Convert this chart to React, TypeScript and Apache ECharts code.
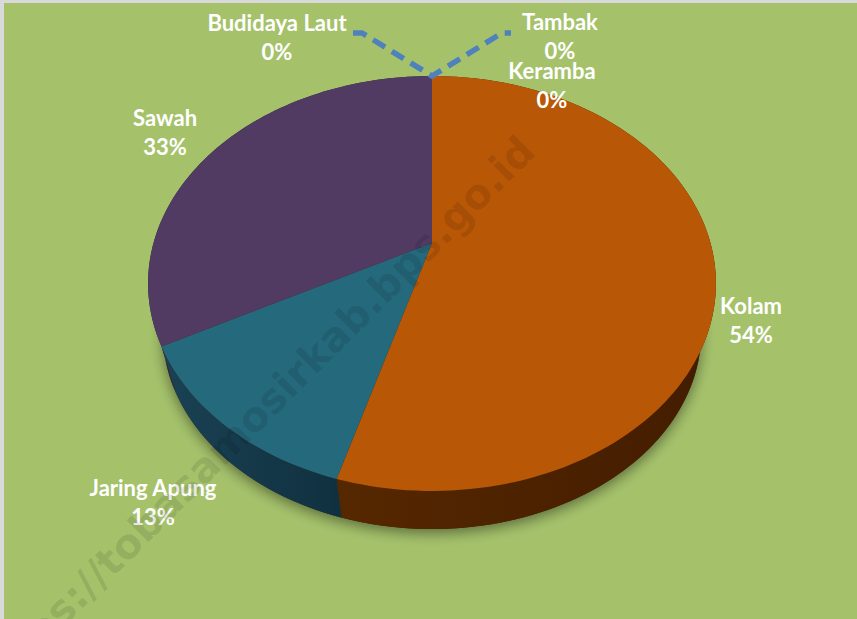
import React, { useEffect, useRef } from "react";
import * as echarts from "echarts";

const categories = ["Kolam", "Jaring Apung", "Sawah", "Budidaya Laut", "Tambak", "Keramba"];
const shares = [54.49, 12.71, 32.8, 0, 0, 0];
const faceColors = ["#b85706", "#25697c", "#513b63", "#4f81bd", "#c0504d", "#9bbb59"];
const wallLeft = ["#562800", "#1a4254", "#33233f", "#4f81bd", "#c0504d", "#9bbb59"];
const wallRight = ["#431c00", "#10303f", "#33233f", "#4f81bd", "#c0504d", "#9bbb59"];
const watermark = "https://tobasamosirkab.bps.go.id";

const total = shares.reduce((a, b) => a + b, 0);
const percentText = (v: number) => `${Math.round((v / total) * 100)}%`;

// perspective view of the disc
const CX = 432;
const TOP_APEX = 243;
const BOTTOM_APEX = 294;
const WALL_SCALE = 0.948;
const K = 0.195;
const A = 278.5;
const B = 199.6;

function project(theta: number, apexY: number, scale: number): number[] {
  const X = Math.sin(theta);
  const Y = -Math.cos(theta);
  const d = 1 - K * Y;
  return [CX + (scale * A * X) / d, apexY + (scale * B * Y) / d];
}

function arc(from: number, to: number, apexY: number, scale: number): number[][] {
  const steps = Math.max(2, Math.ceil(((to - from) / (2 * Math.PI)) * 240));
  const pts: number[][] = [];
  for (let i = 0; i <= steps; i++) {
    pts.push(project(from + ((to - from) * i) / steps, apexY, scale));
  }
  return pts;
}

function sliceAngles(i: number): [number, number] {
  const before = shares.slice(0, i).reduce((a, b) => a + b, 0);
  return [(before / total) * 2 * Math.PI, ((before + shares[i]) / total) * 2 * Math.PI];
}

const pieData = shares.map((v, i) => ({ name: categories[i], value: [i, v] }));

function labelText(i: number, x: number, y: number) {
  return {
    type: "text",
    x,
    y,
    z: 50,
    style: {
      text: `${categories[i]}\n${percentText(shares[i])}`,
      fill: "#ffffff",
      fontFamily: 'Lato, "Open Sans", sans-serif',
      fontWeight: "bold",
      fontSize: 22,
      lineHeight: 29.5,
      align: "center",
      verticalAlign: "middle",
    },
  };
}

export default function App() {
  const ref = useRef<HTMLDivElement>(null);
  useEffect(() => {
    if (!ref.current) return;
    const chart = echarts.init(ref.current, null, { renderer: "svg" });
    chart.setOption({
      animation: false,
      backgroundColor: "#a5c26b",
      series: [
        {
          type: "custom",
          coordinateSystem: "none",
          silent: true,
          z: 1,
          data: [total],
          renderItem: () => ({
            type: "polygon",
            shape: { points: arc(0, 2 * Math.PI, BOTTOM_APEX, WALL_SCALE) },
            style: {
              fill: "#3a2a10",
              shadowBlur: 14,
              shadowColor: "rgba(0,0,0,0.45)",
              shadowOffsetX: 0,
              shadowOffsetY: 4,
            },
          }),
        },
        {
          type: "custom",
          coordinateSystem: "none",
          silent: true,
          z: 2,
          data: pieData,
          renderItem: (params: any) => {
            const i = params.dataIndex;
            if (shares[i] <= 0) return null;
            const [from, to] = sliceAngles(i);
            const top = arc(from, to, TOP_APEX, 1);
            const bottom = arc(from, to, BOTTOM_APEX, WALL_SCALE).reverse();
            return {
              type: "polygon",
              shape: { points: [...top, ...bottom] },
              style: {
                fill: new echarts.graphic.LinearGradient(
                  0, 0, 1, 0,
                  [
                    { offset: 0, color: wallLeft[i] },
                    { offset: 1, color: wallRight[i] },
                  ],
                ),
              },
            };
          },
        },
        {
          type: "custom",
          coordinateSystem: "none",
          silent: true,
          z: 3,
          data: pieData,
          renderItem: (params: any) => {
            const i = params.dataIndex;
            if (shares[i] <= 0) return null;
            const [from, to] = sliceAngles(i);
            return {
              type: "polygon",
              shape: { points: [[CX, TOP_APEX], ...arc(from, to, TOP_APEX, 1)] },
              style: { fill: faceColors[i] },
            };
          },
        },
      ],
      graphic: {
        elements: [
          { type: "rect", shape: { x: 0, y: 0, width: 857, height: 3 }, style: { fill: "#d9d9d9" }, z: 40 },
          { type: "rect", shape: { x: 0, y: 0, width: 4, height: 619 }, style: { fill: "#d9d9d9" }, z: 40 },
          {
            type: "text",
            x: 527.5,
            y: 143.5,
            rotation: (45 * Math.PI) / 180,
            z: 60,
            silent: true,
            style: {
              text: watermark,
              fill: "rgba(0,0,0,0.10)",
              fontFamily: '"DejaVu Sans", sans-serif',
              fontWeight: "bold",
              fontSize: 41,
              align: "right",
              verticalAlign: "middle",
            },
          },
          {
            type: "polyline",
            z: 45,
            shape: { points: [[353, 33], [362, 33], [367, 36], [432, 76], [497, 36], [502, 33], [511, 33]] },
            style: { stroke: "#4f81bd", lineWidth: 5.5, lineDash: [14, 8], fill: "none" },
          },
          labelText(0, 751, 320),
          labelText(1, 153, 502),
          labelText(2, 165, 132),
          labelText(3, 277, 37),
          labelText(4, 560, 36),
          labelText(5, 552, 85),
        ],
      },
    });
    return () => chart.dispose();
  }, []);
  return <div ref={ref} style={{ position: "fixed", left: 0, top: 0, width: 857, height: 619 }} />;
}
